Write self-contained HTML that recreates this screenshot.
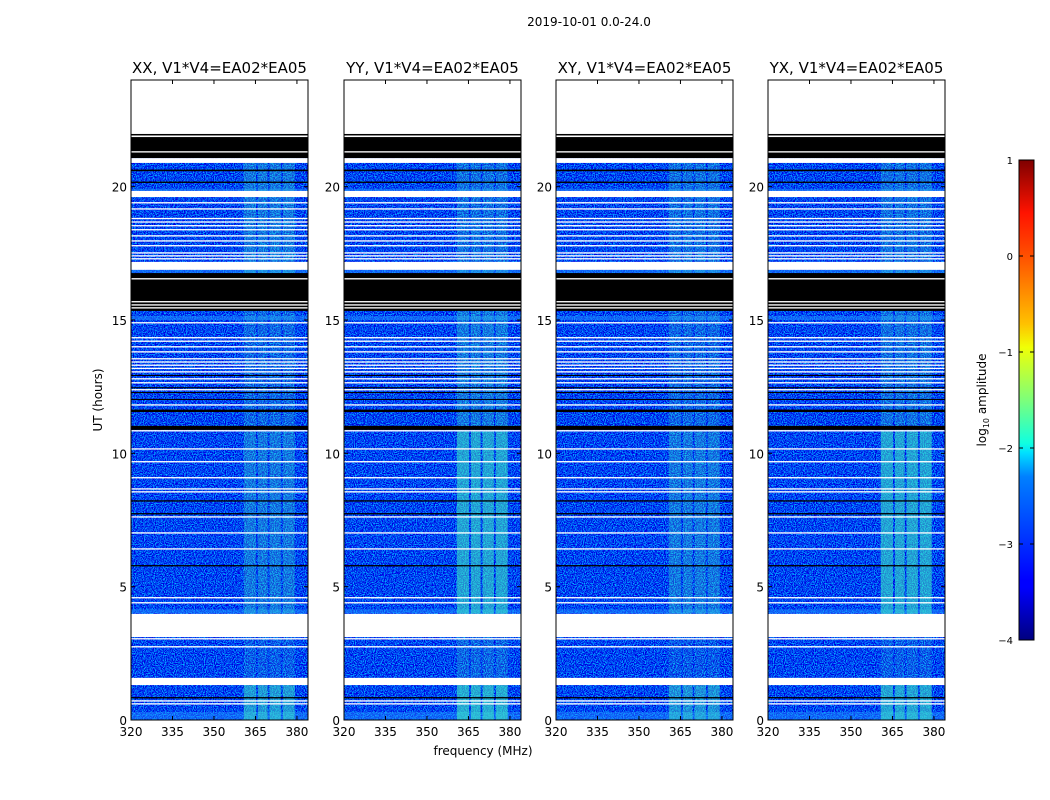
<!DOCTYPE html>
<html><head><meta charset="utf-8"><style>
html,body{margin:0;padding:0;background:#fff;}
svg{display:block;font-family:"DejaVu Sans","Liberation Sans",sans-serif;}
</style></head><body>
<svg id="fig" width="1050" height="800" viewBox="0 0 1050 800" xmlns="http://www.w3.org/2000/svg">
<defs>
<filter id="noise" x="0" y="0" width="100%" height="100%" filterUnits="objectBoundingBox">
<feTurbulence type="fractalNoise" baseFrequency="0.9" numOctaves="2" seed="3" result="t"/>
<feColorMatrix in="t" type="matrix" values="0 0 0 0 0  1.7 0 0 0 -0.78  1.0 0 0 0 0.38  0 0 0 0 1"/>
</filter>
<linearGradient id="jet" x1="0" y1="1" x2="0" y2="0">
<stop offset="0" stop-color="#00007f"/><stop offset="0.11" stop-color="#0000ff"/>
<stop offset="0.125" stop-color="#0000ff"/><stop offset="0.34" stop-color="#0080ff"/>
<stop offset="0.39" stop-color="#00e0ff"/><stop offset="0.41" stop-color="#10ffe0"/>
<stop offset="0.5" stop-color="#7dff7a"/><stop offset="0.61" stop-color="#f0ff06"/>
<stop offset="0.66" stop-color="#ffc000"/><stop offset="0.8" stop-color="#ff5000"/>
<stop offset="0.89" stop-color="#ff1300"/><stop offset="1" stop-color="#7f0000"/>
</linearGradient>
</defs>
<text x="589" y="26" font-size="12" text-anchor="middle">2019-10-01 0.0-24.0</text>
<text transform="translate(102,400) rotate(-90)" font-size="12" text-anchor="middle">UT (hours)</text>
<text x="483" y="755" font-size="12" text-anchor="middle">frequency (MHz)</text>
<g id="panels"></g>
<g id="cbar">
<rect x="1019" y="160" width="15" height="480" fill="url(#jet)" stroke="#000" stroke-width="1"/>
<text transform="translate(986,400) rotate(-90)" font-size="12" text-anchor="middle">log<tspan font-size="8" dy="3">10</tspan><tspan dy="-3"> amplitude</tspan></text>
</g>
</svg>
<script>
const NS="http://www.w3.org/2000/svg";
const panelTitles=["XX, V1*V4=EA02*EA05","YY, V1*V4=EA02*EA05","XY, V1*V4=EA02*EA05","YX, V1*V4=EA02*EA05"];
const panelLeft=[131,344,556,768];
const xTicks=[320,335,350,365,380];
const yTicks=[0,5,10,15,20];
const dataStartHour=21.07;
const blackBands=[[21.07,21.98],[15.34,16.76],[20.58,20.64],[20.14,20.19],[11.55,11.64],[10.88,11.03],[8.19,8.24],[7.71,7.76],[5.76,5.81],[0.81,0.86],[12.44,12.48],[12.26,12.3],[12.0,12.04],[12.9,12.94]];
const whiteBands=[[21.98,24],[21.86,21.92],[21.28,21.33],[20.89,21.07],[19.61,19.84],[19.37,19.42],[19.14,19.19],[18.78,18.83],[18.65,18.7],[18.51,18.56],[18.36,18.41],[18.13,18.18],[17.94,17.99],[17.76,17.81],[17.49,17.54],[17.38,17.43],[17.27,17.32],[16.88,17.18],[16.52,16.57],[15.66,15.71],[15.54,15.59],[15.43,15.48],[14.87,14.92],[14.31,14.36],[14.18,14.23],[13.97,14.02],[13.78,13.83],[13.52,13.57],[13.4,13.45],[13.28,13.33],[13.16,13.21],[13.03,13.08],[12.77,12.82],[12.62,12.67],[12.36,12.41],[11.79,11.84],[10.82,10.87],[10.14,10.19],[9.66,9.71],[9.06,9.11],[8.64,8.69],[8.53,8.58],[7.59,7.64],[6.99,7.04],[6.39,6.44],[4.56,4.61],[4.37,4.42],[3.11,3.98],[3.02,3.07],[2.72,2.77],[1.31,1.58],[0.69,0.74],[0.58,0.63]];
const lightRows=[[15.0,15.15],[19.84,19.92],[16.76,16.88],[4.0,4.15],[0.0,0.3]];
const stripeMHz=[[360.8,365.2],[365.9,369.4],[370.1,374.2],[374.9,379.2]];
const segHours=[[0,1.31],[1.58,3.11],[3.98,10.82],[10.87,15.34],[16.76,21.07]];
const segIntensity=[[0.5,0.15,0.3,0.2,0.3],[0.6,0.2,0.55,0.3,0.25],[0.45,0.12,0.3,0.2,0.25],[0.55,0.15,0.55,0.25,0.25]];
const PW=177, PT=80, PB=720, F0=320, F1=384, H1=24;
const panelsG=document.getElementById('panels');
function yOf(h){return PB-(h/H1)*(PB-PT);}
function mk(tag,attrs,parent){const e=document.createElementNS(NS,tag);for(const k in attrs)e.setAttribute(k,attrs[k]);parent.appendChild(e);return e;}
panelLeft.forEach((x0,pi)=>{
  const xOf=f=>x0+(f-F0)/(F1-F0)*PW;
  const g=mk('g',{},panelsG);
  
  
  const t=mk('text',{x:x0+PW/2,y:73,'font-size':15,'text-anchor':'middle'},g);
  t.textContent=panelTitles[pi];
  
  
  const bg=mk('rect',{x:x0,y:yOf(dataStartHour),width:PW,height:yOf(0)-yOf(dataStartHour),fill:'#1030e0',filter:'url(#noise)'},g);
  
  
  lightRows.forEach(r=>{
    const e=mk('rect',{x:x0,y:yOf(r[1]),width:PW,height:yOf(r[0])-yOf(r[1]),fill:'#2090ff','fill-opacity':0.5},g);
    
    
  });
  segHours.forEach((s,si)=>{
    stripeMHz.forEach(m=>{
      const e=mk('rect',{x:xOf(m[0]),y:yOf(s[1]),width:xOf(m[1])-xOf(m[0]),height:yOf(s[0])-yOf(s[1]),fill:'#40f0c0','fill-opacity':segIntensity[pi][si]},g);
      
      
    });
  });
  blackBands.forEach(b=>{
    const e=mk('rect',{x:x0,y:yOf(b[1]),width:PW,height:Math.max(1,yOf(b[0])-yOf(b[1])),fill:'#000'},g);
    
    
  });
  whiteBands.forEach(b=>{
    const e=mk('rect',{x:x0,y:yOf(b[1]),width:PW,height:Math.max(1,yOf(b[0])-yOf(b[1])),fill:'#fff'},g);
    
    
  });
  const fr=mk('rect',{x:x0,y:PT,width:PW,height:PB-PT,fill:'none',stroke:'#000','stroke-width':1},g);
  
  
  xTicks.forEach(v=>{
    const x=xOf(v);
    mk('line',{x1:x,y1:PB,x2:x,y2:PB-4,stroke:'#000'},g);
    mk('line',{x1:x,y1:PT,x2:x,y2:PT+4,stroke:'#000'},g);
    const l=mk('text',{x:x,y:PB+16,'font-size':12,'text-anchor':'middle'},g);
    l.textContent=v;
    
    
  });
  yTicks.forEach(v=>{
    const y=yOf(v);
    mk('line',{x1:x0,y1:y,x2:x0+4,y2:y,stroke:'#000'},g);
    mk('line',{x1:x0+PW,y1:y,x2:x0+PW-4,y2:y,stroke:'#000'},g);
    const l=mk('text',{x:x0-4,y:y+5,'font-size':12,'text-anchor':'end'},g);
    l.textContent=v;
    
    
  });
});
const cbTicks=[1,0,-1,-2,-3,-4];
const cb=document.getElementById('cbar');
cbTicks.forEach(v=>{
  const y=640-(v+4)/5*480;
  mk('line',{x1:1019,y1:y,x2:1023,y2:y,stroke:'#000'},cb);
  mk('line',{x1:1034,y1:y,x2:1030,y2:y,stroke:'#000'},cb);
  const l=mk('text',{x:1013,y:y+4,'font-size':10,'text-anchor':'end'},cb);
  l.textContent=v<0?'\u2212'+(-v):String(v);
  
  
});
</script>
</body></html>
